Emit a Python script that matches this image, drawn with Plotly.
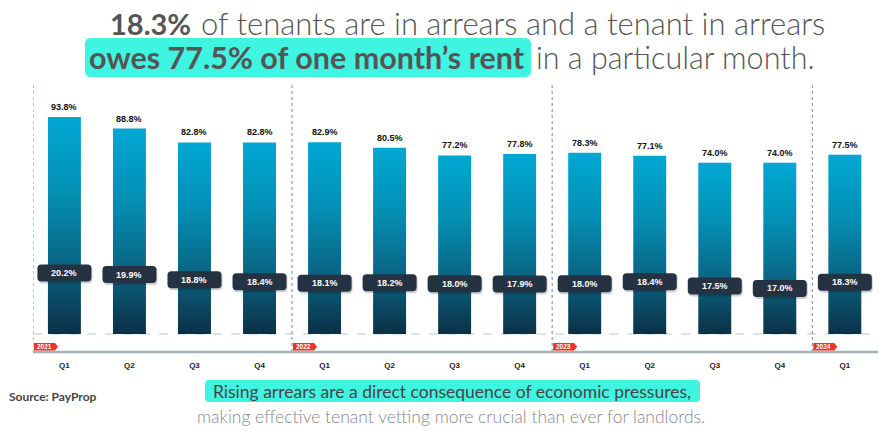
import plotly.graph_objects as go

# ---------------- data ----------------
quarters = ["Q1", "Q2", "Q3", "Q4", "Q1", "Q2", "Q3", "Q4", "Q1", "Q2", "Q3", "Q4", "Q1"]
period_year = ["2021", "2021", "2021", "2021", "2022", "2022", "2022", "2022",
               "2023", "2023", "2023", "2023", "2024"]
amount_owed_pct = [93.8, 88.8, 82.8, 82.8, 82.9, 80.5, 77.2, 77.8, 78.3, 77.1, 74.0, 74.0, 77.5]
tenants_in_arrears_pct = [20.2, 19.9, 18.8, 18.4, 18.1, 18.2, 18.0, 17.9, 18.0, 18.4, 17.5, 17.0, 18.3]

# ---------------- layout geometry ----------------
W, H = 886, 431
ML, MR, MT, MB = 33, 8, 85, 431 - 352
PW, PH = W - ML - MR, H - MT - MB
BAR_W = 0.507
XR = [-0.483, 12.51]
Y1R = [-7.781, 107.63]
Y2R = [3.76, 59.38]

FONT_CHART = "Arial, Liberation Sans, sans-serif"
FONT_TEXT = "Lato, sans-serif"
FONT_LIGHT = "Lato Light, Lato, sans-serif"

xs = list(range(len(quarters)))

fig = go.Figure()

# bars with vertical gradient (drawn through the data axes)
for x, v in zip(xs, amount_owed_pct):
    fig.add_trace(go.Scatter(
        x=[x - BAR_W / 2, x + BAR_W / 2, x + BAR_W / 2, x - BAR_W / 2, x - BAR_W / 2],
        y=[0, 0, v, v, 0],
        mode="lines", line=dict(width=0), fill="toself",
        fillgradient=dict(type="vertical", start=0, stop=v,
                          colorscale=[[0, "#0b3046"], [0.3, "#0a6280"],
                                      [0.65, "#048fb4"], [1, "#00a8d3"]]),
        hoverinfo="skip", showlegend=False))

# invisible anchor trace for secondary axis
fig.add_trace(go.Scatter(x=xs, y=tenants_in_arrears_pct, yaxis="y2", mode="markers",
                         marker=dict(opacity=0), hoverinfo="skip", showlegend=False))


def rpath(x0, y0, x1, y1, r):
    return (f"M {x0+r},{y0} L {x1-r},{y0} Q {x1},{y0} {x1},{y0+r} "
            f"L {x1},{y1-r} Q {x1},{y1} {x1-r},{y1} L {x0+r},{y1} "
            f"Q {x0},{y1} {x0},{y1-r} L {x0},{y0+r} Q {x0},{y0} {x0+r},{y0} Z")


shapes = []
annotations = []

# value labels above bars
for x, v in zip(xs, amount_owed_pct):
    annotations.append(dict(x=x, y=v, xref="x", yref="y", yanchor="bottom", yshift=3,
                            text=f"<b>{v:.1f}%</b>", showarrow=False,
                            font=dict(family=FONT_CHART, size=9, color="#111111")))

# pills
for x, v in zip(xs, tenants_in_arrears_pct):
    shapes.append(dict(type="path", xref="x", yref="y2", xsizemode="pixel", ysizemode="pixel",
                       xanchor=x, yanchor=v, path=rpath(-26, -10.5, 28, 7.5, 4),
                       fillcolor="rgba(0,0,0,0.18)", line=dict(width=0), layer="above"))
    shapes.append(dict(type="path", xref="x", yref="y2", xsizemode="pixel", ysizemode="pixel",
                       xanchor=x, yanchor=v, path=rpath(-27, -8.5, 27, 8.5, 4),
                       fillcolor="#253242", line=dict(width=0), layer="above"))
    annotations.append(dict(x=x, y=v, xref="x", yref="y2", yanchor="middle",
                            text=f"<b>{v:.1f}%</b>", showarrow=False,
                            font=dict(family=FONT_CHART, size=9, color="#ffffff")))

# dashed baseline
shapes.append(dict(type="line", xref="paper", yref="y", x0=0, x1=1, y0=0, y1=0,
                   line=dict(color="#b9c9d6", width=1, dash="dash"), layer="below"))
# bottom axis line
shapes.append(dict(type="line", xref="paper", yref="paper", x0=0, x1=1, y0=0, y1=0,
                   line=dict(color="#a5b3bb", width=2.5)))

# year separators and flags
year_labels = []
year_start = []
for i, y in enumerate(period_year):
    if y not in year_labels:
        year_labels.append(y)
        year_start.append(i)

for lab, i in zip(year_labels, year_start):
    sx = XR[0] if i == 0 else i - 0.5
    shapes.append(dict(type="line", xref="x", yref="paper", x0=sx, x1=sx, y0=0, y1=1,
                       line=dict(color="#6d8ba3", width=1, dash="dot"), layer="below"))
    shapes.append(dict(type="path", xref="x", yref="paper", xsizemode="pixel", ysizemode="pixel",
                       xanchor=sx, yanchor=0, path="M 1,1.5 L 22,1.5 L 25,5.25 L 22,9 L 1,9 Z",
                       fillcolor="#ee3426", line=dict(width=0)))
    annotations.append(dict(x=sx, y=0, xref="x", yref="paper", xshift=11.5, yshift=5.25,
                            yanchor="middle", text=f"<b>{lab}</b>", showarrow=False,
                            font=dict(family=FONT_CHART, size=6.5, color="#ffffff")))


def px(xp):
    return (xp - ML) / PW


def py(yp):
    return (H - MB - yp) / PH


def abs_box(x0, y0, x1, y1, r, color):
    # box given in page pixels, anchored at plot-area origin
    bx = lambda v: v - ML
    by = lambda v: (H - MB) - v
    return dict(type="path", xref="paper", yref="paper", xsizemode="pixel", ysizemode="pixel",
                xanchor=0, yanchor=0,
                path=rpath(bx(x0), by(y1), bx(x1), by(y0), r),
                fillcolor=color, line=dict(width=0))


# highlight boxes
shapes.append(abs_box(85, 38, 531, 77, 6, "#3ff5e1"))
shapes.append(abs_box(205, 380, 700, 402, 4, "#3ff5e1"))

# headline text
annotations += [
    dict(x=px(108), y=py(23), xref="paper", yref="paper", xanchor="left", yanchor="middle",
         text="<b>18.3%</b>", showarrow=False,
         font=dict(family=FONT_TEXT, size=29, color="#555555", weight=700)),
    dict(x=px(199), y=py(23), xref="paper", yref="paper", xanchor="left", yanchor="middle",
         text="of tenants are in arrears and a tenant in arrears", showarrow=False,
         font=dict(family=FONT_LIGHT, size=31, color="#555555", weight=300)),
    dict(x=px(527), y=py(57), xref="paper", yref="paper", xanchor="right", yanchor="middle",
         text="<b>owes 77.5% of one month’s rent</b>", showarrow=False,
         font=dict(family=FONT_TEXT, size=30.5, color="#555555", weight=700)),
    dict(x=px(534), y=py(57), xref="paper", yref="paper", xanchor="left", yanchor="middle",
         text="in a particular month.", showarrow=False,
         font=dict(family=FONT_LIGHT, size=30.5, color="#555555", weight=300)),
    dict(x=px(7), y=py(396), xref="paper", yref="paper", xanchor="left", yanchor="middle",
         text="<b>Source: PayProp</b>", showarrow=False,
         font=dict(family=FONT_TEXT, size=12, color="#444444")),
    dict(x=px(452), y=py(391), xref="paper", yref="paper", xanchor="center", yanchor="middle",
         text="Rising arrears are a direct consequence of economic pressures,", showarrow=False,
         font=dict(family=FONT_TEXT, size=17.5, color="#454545", weight=400)),
    dict(x=px(451), y=py(416), xref="paper", yref="paper", xanchor="center", yanchor="middle",
         text="making effective tenant vetting more crucial than ever for landlords.", showarrow=False,
         font=dict(family=FONT_LIGHT, size=17.5, color="#888888", weight=300)),
]

fig.update_layout(
    width=W, height=H,
    margin=dict(l=ML, r=MR, t=MT, b=MB, pad=0),
    paper_bgcolor="#ffffff", plot_bgcolor="#ffffff",
    showlegend=False,
    xaxis=dict(range=XR, tickvals=xs, ticktext=[f"<b>{q}</b>" for q in quarters],
               showgrid=False, zeroline=False, showline=False,
               ticks="outside", ticklen=5, tickcolor="rgba(0,0,0,0)",
               tickfont=dict(family=FONT_CHART, size=8, color="#222222")),
    yaxis=dict(range=Y1R, visible=False, showgrid=False, zeroline=False),
    yaxis2=dict(range=Y2R, overlaying="y", visible=False, showgrid=False, zeroline=False),
    shapes=shapes, annotations=annotations,
)

fig.write_html("out.html", config={"displayModeBar": False},
               post_script="document.body.style.margin='0';")
